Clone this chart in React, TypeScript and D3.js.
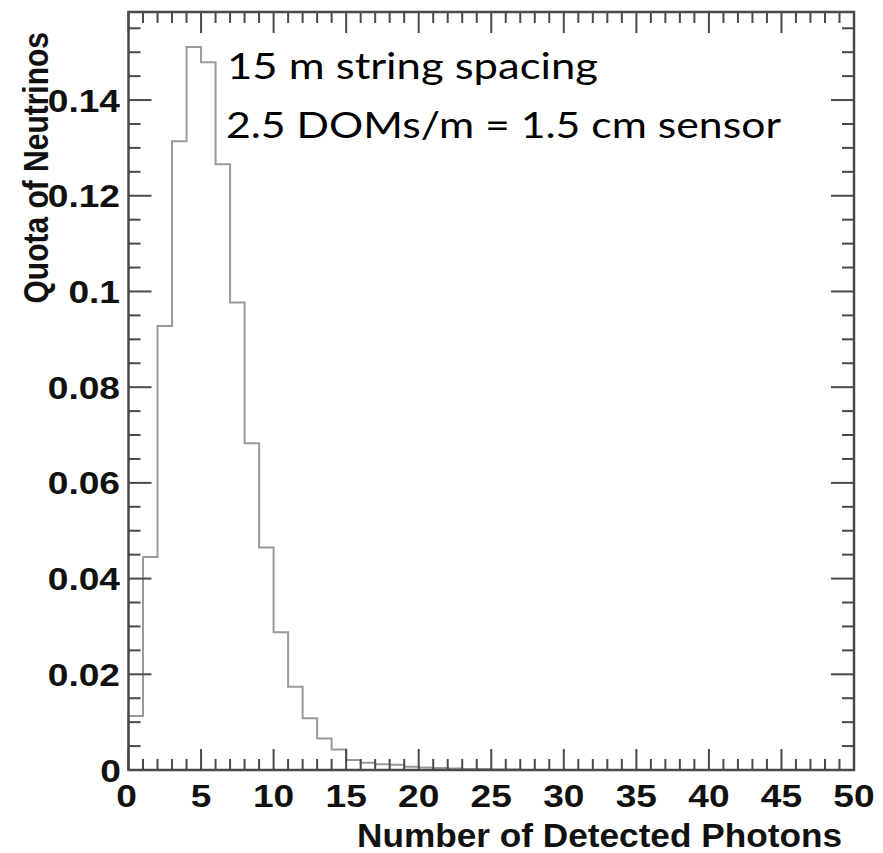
import React from "react";
import * as d3 from "d3";

// Histogram bins: lower edges 0..49, width 1
const binEdges = [
  0, 1, 2, 3, 4, 5, 6, 7, 8, 9, 10, 11, 12, 13, 14, 15, 16, 17, 18, 19, 20, 21, 22, 23, 24,
  25, 26, 27, 28, 29, 30, 31, 32, 33, 34, 35, 36, 37, 38, 39, 40, 41, 42, 43, 44, 45, 46, 47, 48, 49, 50,
];
const binValues = [
  0.0113, 0.0445, 0.0928, 0.1314, 0.1511, 0.1479, 0.1266, 0.0977, 0.0683, 0.0465,
  0.0288, 0.0174, 0.0108, 0.0066, 0.0043, 0.0021, 0.0015, 0.0012, 0.0011, 0.0007,
  0.0005, 0.0004, 0.0003, 0.0002, 0.0002, 0.0001, 0.0001, 0, 0, 0,
  0, 0, 0, 0, 0, 0, 0, 0, 0, 0,
  0, 0, 0, 0, 0, 0, 0, 0, 0, 0,
];

const xMajorTicks = [0, 5, 10, 15, 20, 25, 30, 35, 40, 45, 50];
const xTickLabels = ["0", "5", "10", "15", "20", "25", "30", "35", "40", "45", "50"];
const xMinorTicks = d3.range(0, 51, 1);
const yMajorTicks = [0, 0.02, 0.04, 0.06, 0.08, 0.1, 0.12, 0.14];
const yTickLabels = ["0", "0.02", "0.04", "0.06", "0.08", "0.1", "0.12", "0.14"];
const yMinorTicks = d3.range(0, 0.1551, 0.005);

const xTitle = "Number of Detected Photons";
const yTitle = "Quota of Neutrinos";
const noteLines = ["15 m string spacing", "2.5 DOMs/m = 1.5 cm sensor"];

const W = 883;
const H = 853;
const L = 128.5, R = 854, T = 12, B = 770;
const SX = 1.16;

export default function App() {
  const x = d3.scaleLinear().domain([0, 50]).range([L, R]);
  const y = d3.scaleLinear().domain([0, 0.1584]).range([B, T]);

  const pts: [number, number][] = [[0, 0]];
  binValues.forEach((v, i) => {
    pts.push([binEdges[i], v]);
    pts.push([binEdges[i + 1], v]);
  });
  const line = d3.line<[number, number]>().x((d) => x(d[0])).y((d) => y(d[1]));

  const axisColor = "#4a4a4a";
  const tickFont = "'Liberation Sans', Arial, sans-serif";

  return (
    <svg width={W} height={H} style={{ position: "absolute", left: 0, top: 0, background: "#fff" }}>
      <rect x={0} y={0} width={W} height={H} fill="#fff" />
      {/* histogram */}
      <path d={line(pts) || ""} fill="none" stroke="#9a9a9a" strokeWidth={2} />
      {/* frame */}
      <rect x={L} y={T} width={R - L} height={B - T} fill="none" stroke={axisColor} strokeWidth={2.5} />
      {/* x ticks bottom & top */}
      {xMinorTicks.map((t) => {
        const major = t % 5 === 0;
        const len = major ? 21 : 11;
        return (
          <g key={"xt" + t}>
            <line x1={x(t)} x2={x(t)} y1={B} y2={B - len} stroke={axisColor} strokeWidth={2} />
            <line x1={x(t)} x2={x(t)} y1={T} y2={T + len} stroke={axisColor} strokeWidth={2} />
          </g>
        );
      })}
      {yMinorTicks.map((t, i) => {
        const major = i % 4 === 0;
        const len = major ? 23 : 12;
        return (
          <g key={"yt" + i}>
            <line x1={L} x2={L + len} y1={y(t)} y2={y(t)} stroke={axisColor} strokeWidth={2} />
            <line x1={R} x2={R - len} y1={y(t)} y2={y(t)} stroke={axisColor} strokeWidth={2} />
          </g>
        );
      })}
      {/* x tick labels */}
      {xMajorTicks.map((t, i) => (
        <text
          key={"xl" + t}
          transform={`translate(${x(t) + (t === 0 ? -2 : 0)},807) scale(${SX},1)`}
          textAnchor="middle"
          fontFamily={tickFont}
          fontWeight="bold"
          fontSize={32}
          fill="#111"
        >
          {xTickLabels[i]}
        </text>
      ))}
      {/* y tick labels */}
      {yMajorTicks.map((t, i) => (
        <text
          key={"yl" + t}
          transform={`translate(${t === 0 ? 121 : 120},${y(t) + 11.5}) scale(${SX},1)`}
          textAnchor="end"
          fontFamily={tickFont}
          fontWeight="bold"
          fontSize={32}
          fill="#111"
        >
          {yTickLabels[i]}
        </text>
      ))}
      {/* axis titles */}
      <text x={842} y={847} textAnchor="end" fontFamily={tickFont} fontWeight="bold" fontSize={34} fill="#111" textLength={485} lengthAdjust="spacingAndGlyphs">
        {xTitle}
      </text>
      <text
        transform={`translate(48,32) scale(${SX},1) rotate(-90)`}
        textAnchor="end"
        fontFamily={tickFont}
        fontWeight="bold"
        fontSize={30}
        fill="#111"
      >
        {yTitle}
      </text>
      {/* annotation */}
      <text x={227} y={79} fontFamily="Lato, 'Open Sans', sans-serif" fontSize={37} fill="#000" textLength={371} lengthAdjust="spacingAndGlyphs">
        {noteLines[0]}
      </text>
      <text x={226} y={138} fontFamily="Lato, 'Open Sans', sans-serif" fontSize={37} fill="#000" textLength={555} lengthAdjust="spacingAndGlyphs">
        {noteLines[1]}
      </text>
    </svg>
  );
}
